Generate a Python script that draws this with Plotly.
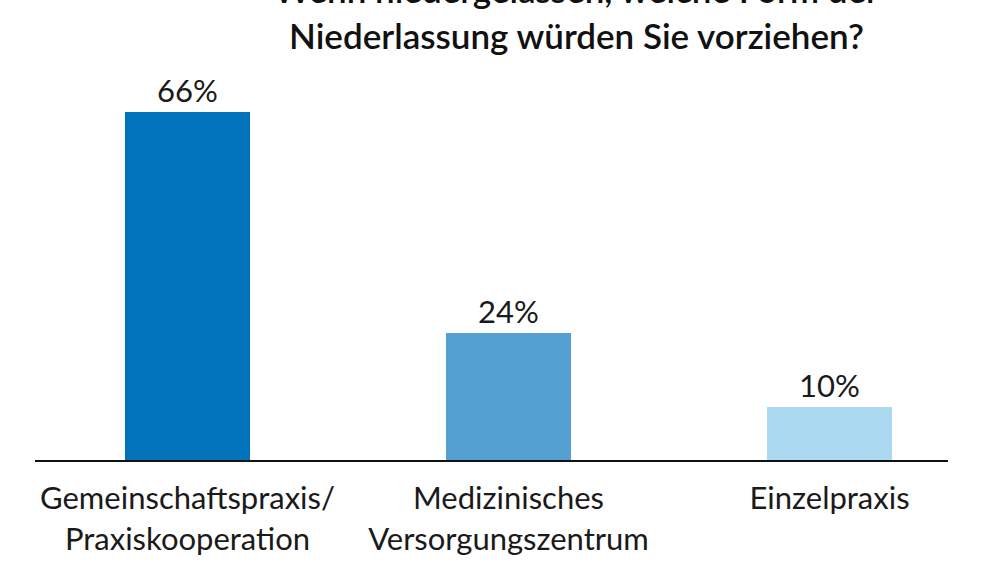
"""Bar chart: preferred form of medical practice (Niederlassung)."""

import plotly.graph_objects as go

CATEGORIES = ["Gemeinschaftspraxis/<br>Praxiskooperation",
              "Medizinisches<br>Versorgungszentrum",
              "Einzelpraxis"]
SHARES = [66, 24, 10]
LABELS = ["66%", "24%", "10%"]
COLORS = ["#0073ba", "#54a0d2", "#aad9f0"]
TITLE = "Wenn niedergelassen, welche Form der<br>Niederlassung würden Sie vorziehen?"

FONT = "Lato"


def main() -> None:
    fig = go.Figure(
        go.Bar(
            x=[0, 1, 2],
            y=SHARES,
            text=LABELS,
            textposition="outside",
            textfont=dict(size=31, color="#1a1a1a", family=FONT),
            marker=dict(color=COLORS, line=dict(width=0)),
            width=0.39,
            cliponaxis=False,
        )
    )

    fig.add_annotation(
        text=TITLE,
        xref="paper", yref="paper",
        x=0.593, y=1.18,
        xanchor="center", yanchor="middle",
        showarrow=False,
        font=dict(size=35, color="#111111", family=FONT, weight=600),
    )

    fig.update_xaxes(
        range=[-0.475, 2.369],
        tickmode="array",
        tickvals=[0, 1, 2],
        ticktext=CATEGORIES,
        tickfont=dict(size=31, color="#1a1a1a", family=FONT),
        ticklabelstandoff=10,
        automargin=False,
        showline=True, linecolor="#111111", linewidth=2,
        showgrid=False, zeroline=False, ticks="",
    )
    fig.update_yaxes(range=[0, 71.97], visible=False, automargin=False)

    fig.update_layout(
        width=1000, height=563,
        margin=dict(l=35, r=52, t=80, b=103),
        plot_bgcolor="white", paper_bgcolor="white",
        showlegend=False,
        bargap=0,
    )

    # drop the browser's default body margin so the figure sits at (0, 0)
    fig.write_html(
        "out.html",
        config={"displayModeBar": False},
        post_script="document.body.style.margin='0';",
    )


if __name__ == "__main__":
    main()
